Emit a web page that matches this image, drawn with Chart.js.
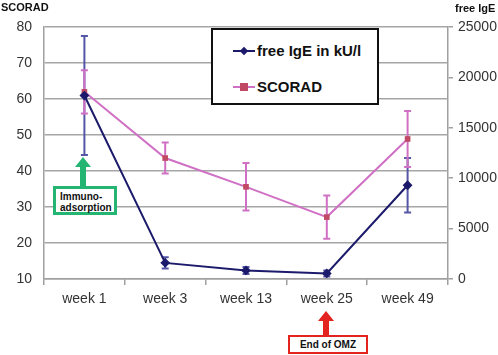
<!DOCTYPE html>
<html>
<head>
<meta charset="utf-8">
<script src="https://cdn.jsdelivr.net/npm/chart.js@4/dist/chart.umd.min.js"></script>
<style>
html,body{margin:0;padding:0;background:#fff;}
#wrap{position:relative;width:498px;height:355px;font-family:"Liberation Sans",Arial,sans-serif;}
canvas{position:absolute;left:0;top:0;}
.t{position:absolute;font-weight:bold;color:#111;white-space:nowrap;}
#legend{position:absolute;left:211px;top:28px;width:164px;height:73px;border:2px solid #111;background:#fff;}
.li{position:absolute;left:20px;width:140px;height:20px;white-space:nowrap;font:bold 15px "Liberation Sans",Arial,sans-serif;color:#111;}
.li span.s{position:absolute;left:0;top:9px;width:22px;height:2px;}
.li span.m{position:absolute;}
.li span.x{position:absolute;left:24px;top:0;line-height:20px;white-space:nowrap;}
.box{position:absolute;background:#fff;font:bold 10px "Liberation Sans",Arial,sans-serif;color:#111;box-sizing:border-box;white-space:nowrap;}
svg{position:absolute;left:0;top:0;}
</style>
</head>
<body>
<div id="wrap">
<canvas id="c" width="498" height="355"></canvas>
<div class="t" style="left:1px;top:1px;font-size:11px;">SCORAD</div>
<div class="t" style="left:455px;top:2px;font-size:11px;font-family:'Liberation Sans Narrow','Liberation Sans',Arial;">free IgE</div>
<div id="legend">
  <div class="li" style="top:11px;"><span class="s" style="background:#1b1a6b"></span><span class="m" style="left:8px;top:7px;width:6px;height:6px;background:#1b1a6b;transform:rotate(45deg)"></span><span class="x">free IgE in kU/l</span></div>
  <div class="li" style="top:47px;"><span class="s" style="background:#d070c4"></span><span class="m" style="left:7px;top:6px;width:8px;height:8px;background:#c04a63"></span><span class="x">SCORAD</span></div>
</div>
<svg width="498" height="355">
  <polygon points="83,157 75,167 80,167 80,186 86,186 86,167 91,167" fill="#25b573"/>
  <polygon points="326,311 318,321 323,321 323,335 329,335 329,321 334,321" fill="#e3231f"/>
</svg>
<div class="box" style="left:53px;top:186px;width:64px;height:29px;border:3px solid #25b573;padding:2px 0 0 4px;line-height:11px;">Immuno-<br>adsorption</div>
<div class="box" style="left:288px;top:335px;width:80px;height:19px;border:2px solid #e3231f;text-align:center;line-height:15px;">End of OMZ</div>
</div>
<script>
const categories = ["week 1", "week 3", "week 13", "week 25", "week 49"];
const igeValues = [18200, 1600, 850, 550, 9300];
const igeErrors = [5900, 550, 350, 300, 2700];
const scoradValues = [62, 43.6, 35.6, 27.2, 48.9];
const scoradErrors = [6, 4.3, 6.6, 6, 7.8];
const leftTicks = [10, 20, 30, 40, 50, 60, 70, 80];
const rightTicks = [0, 5000, 10000, 15000, 20000, 25000];

const errorBars = {
  id: 'errorBars',
  beforeDatasetsDraw(chart) {
    const ctx = chart.ctx;
    chart.data.datasets.forEach((ds, i) => {
      const meta = chart.getDatasetMeta(i);
      const ys = chart.scales[ds.yAxisID];
      ctx.save();
      ctx.strokeStyle = ds.errColor;
      ctx.lineWidth = 2;
      ds.data.forEach((v, j) => {
        const x = meta.data[j].x;
        const e = ds.errors[j];
        const y1 = ys.getPixelForValue(v + e), y2 = ys.getPixelForValue(v - e);
        ctx.beginPath();
        ctx.moveTo(x, y1); ctx.lineTo(x, y2);
        ctx.moveTo(x - 3.5, y1); ctx.lineTo(x + 3.5, y1);
        ctx.moveTo(x - 3.5, y2); ctx.lineTo(x + 3.5, y2);
        ctx.stroke();
      });
      ctx.restore();
    });
  }
};

const tickFont = {family: "'Liberation Sans', Arial, sans-serif", size: 14};
new Chart(document.getElementById('c'), {
  type: 'line',
  data: {
    labels: categories,
    datasets: [
      {label: 'free IgE in kU/l', data: igeValues, errors: igeErrors, errColor: '#5656a6', yAxisID: 'y1',
       borderColor: '#1b1a6b', backgroundColor: '#1b1a6b', borderWidth: 2, pointStyle: 'rectRot', pointRadius: 3.5, tension: 0},
      {label: 'SCORAD', data: scoradValues, errors: scoradErrors, errColor: '#d070c4', yAxisID: 'y',
       borderColor: '#d070c4', backgroundColor: '#c04a63', borderWidth: 2, pointStyle: 'rect', pointRadius: 4, pointBorderWidth: 0, tension: 0}
    ]
  },
  options: {
    responsive: false, animation: false, devicePixelRatio: 1,
    layout: {padding: {top: 27, left: 0, right: 0, bottom: 0}},
    plugins: {legend: {display: false}, tooltip: {enabled: false}},
    scales: {
      x: {
        offset: true,
        grid: {offset: true, drawOnChartArea: false, drawTicks: true, tickLength: 6, color: '#a0a0a0', lineWidth: 1.5},
        border: {color: '#a0a0a0', width: 1.5},
        ticks: {font: tickFont, color: '#333', padding: 6, maxRotation: 0},
        afterFit(s) { s.height = 76; }
      },
      y: {
        position: 'left', min: 10, max: 80,
        afterBuildTicks(s) { s.ticks = leftTicks.map(v => ({value: v})); },
        grid: {color: '#a6a6a6', lineWidth: 1.5, drawTicks: false},
        border: {color: '#a0a0a0', width: 1.5},
        ticks: {font: tickFont, color: '#333', padding: 12},
        afterFit(s) { s.width = 44; }
      },
      y1: {
        position: 'right', min: 0, max: 25000,
        afterBuildTicks(s) { s.ticks = rightTicks.map(v => ({value: v})); },
        grid: {drawOnChartArea: false, drawTicks: true, tickLength: 5, color: '#a0a0a0', lineWidth: 1.5},
        border: {color: '#a0a0a0', width: 1.5},
        ticks: {font: tickFont, color: '#333', padding: 5, callback: v => String(v)},
        afterFit(s) { s.width = 50; }
      }
    }
  },
  plugins: [errorBars]
});
</script>
</body>
</html>
